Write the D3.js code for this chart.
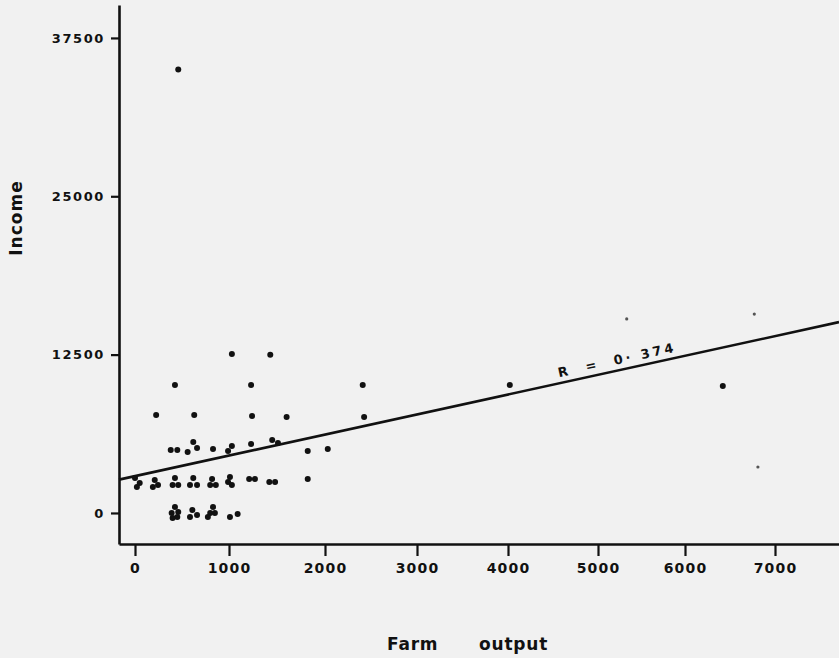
<!DOCTYPE html>
<html>
<head>
<meta charset="utf-8">
<script src="https://cdn.jsdelivr.net/npm/d3@7"></script>
<style>
  html, body { margin: 0; padding: 0; background: #f1f1f1; }
  svg { display: block; }
  text { font-family: "DejaVu Sans", sans-serif; fill: #111; }
</style>
</head>
<body>
<script>
// farm output vs income
var farmOutput = [460, 1030, 1430, 425, 1230, 2410, 225, 630, 1240, 1600, 2425, 4020, 6420,
  380, 450, 560, 620, 660, 830, 990, 1030, 1230, 1450, 1510, 1820, 2030,
  0, 20, 50, 210, 190, 245, 425, 400, 460, 620, 585, 660, 820, 800, 860, 1010, 990, 1030, 1210, 1270, 1420, 1480, 1820,
  425, 390, 460, 400, 450, 610, 585, 660, 830, 800, 850, 775, 1010, 1090];
var income = [35000, 12550, 12480, 10100, 10100, 10100, 7740, 7740, 7660, 7580, 7580, 10100, 10030,
  4970, 4970, 4820, 5610, 5130, 5050, 4900, 5290, 5450, 5760, 5530, 4900, 5050,
  2760, 2050, 2370, 2610, 2050, 2210, 2760, 2210, 2210, 2760, 2210, 2210, 2680, 2210, 2210, 2840, 2450, 2210, 2680, 2680, 2450, 2450, 2680,
  470, 0, 80, -390, -320, 240, -320, -160, 470, 0, 0, -320, -320, -80];
// faint specks on the scan
var faintOutput = [5330, 6770, 6810];
var faintIncome = [15320, 15700, 3630];

var xTicks = [0, 1000, 2000, 3000, 4000, 5000, 6000, 7000];
var yTicks = [0, 12500, 25000, 37500];
var regIntercept = 2900, regSlope = 1.58;
var rLabel = 'R  =  0\u00b7 374';

var width = 839, height = 658;
var svg = d3.select('body').append('svg').attr('width', width).attr('height', height);

// hand drawn axis, tick spacing is not quite even
var x = d3.scaleLinear()
  .domain([-170, 0, 1000, 2000, 3000, 4000, 5000, 6000, 7000, 7700])
  .range([119, 135, 229, 325, 417, 508, 598, 685, 775, 839]);
var y = d3.scaleLinear().domain([-2450, 40100]).range([544, 5]);

var xAxis = d3.axisBottom(x).tickValues(xTicks).tickFormat(d3.format('d'))
  .tickSize(12).tickSizeOuter(0).tickPadding(7);
var yAxis = d3.axisLeft(y).tickValues(yTicks).tickFormat(d3.format('d'))
  .tickSize(8).tickSizeOuter(0).tickPadding(6);

var gx = svg.append('g').attr('transform', 'translate(0,544)').call(xAxis);
var gy = svg.append('g').attr('transform', 'translate(119,0)').call(yAxis);

[gx, gy].forEach(function(g){
  g.select('.domain').attr('stroke', '#111').attr('stroke-width', 2.6);
  g.selectAll('.tick line').attr('stroke', '#111').attr('stroke-width', 2.2);
  g.selectAll('.tick text').attr('fill', '#111').attr('font-family', '"DejaVu Sans", sans-serif')
   .attr('font-weight', 'bold');
});
gx.selectAll('.tick text').attr('font-size', 14).attr('letter-spacing', 1.2);
gy.selectAll('.tick text').attr('font-size', 13).attr('letter-spacing', 1.6);

// regression line
var xd = [x.domain()[0], x.domain()[x.domain().length - 1]];
var lineGen = d3.line().x(function(d){ return x(d); }).y(function(d){ return y(regIntercept + regSlope * d); });
svg.append('path').attr('d', lineGen(xd)).attr('fill', 'none').attr('stroke', '#111').attr('stroke-width', 2.6);

var x0 = x(xd[0]), y0 = y(regIntercept + regSlope * xd[0]);
var x1 = x(xd[1]), y1 = y(regIntercept + regSlope * xd[1]);
var ang = Math.atan2(y1 - y0, x1 - x0) * 180 / Math.PI;
var lx = 5230;
svg.append('text')
  .attr('transform', 'translate(' + x(lx) + ',' + y(regIntercept + regSlope * lx) + ') rotate(' + ang + ')')
  .attr('y', -7)
  .attr('text-anchor', 'middle')
  .attr('font-size', 13).attr('font-weight', 'bold')
  .attr('textLength', 118).attr('lengthAdjust', 'spacing')
  .style('white-space', 'pre')
  .text(rLabel);

// points
svg.append('g').selectAll('circle').data(farmOutput).enter().append('circle')
  .attr('cx', function(d){ return x(d); })
  .attr('cy', function(d, i){ return y(income[i]); })
  .attr('r', 3).attr('fill', '#111');
svg.append('g').selectAll('circle').data(faintOutput).enter().append('circle')
  .attr('cx', function(d){ return x(d); })
  .attr('cy', function(d, i){ return y(faintIncome[i]); })
  .attr('r', 1.6).attr('fill', '#555');

// axis titles
svg.append('text').attr('transform', 'translate(22,218) rotate(-90)')
  .attr('text-anchor', 'middle').attr('font-size', 17).attr('font-weight', 'bold')
  .attr('letter-spacing', 1).text('Income');
var xt = svg.append('text').attr('y', 650).attr('font-size', 17).attr('font-weight', 'bold')
  .attr('letter-spacing', 0.8);
xt.append('tspan').attr('x', 387).text('Farm');
xt.append('tspan').attr('x', 479).text('output');
</script>
</body>
</html>
